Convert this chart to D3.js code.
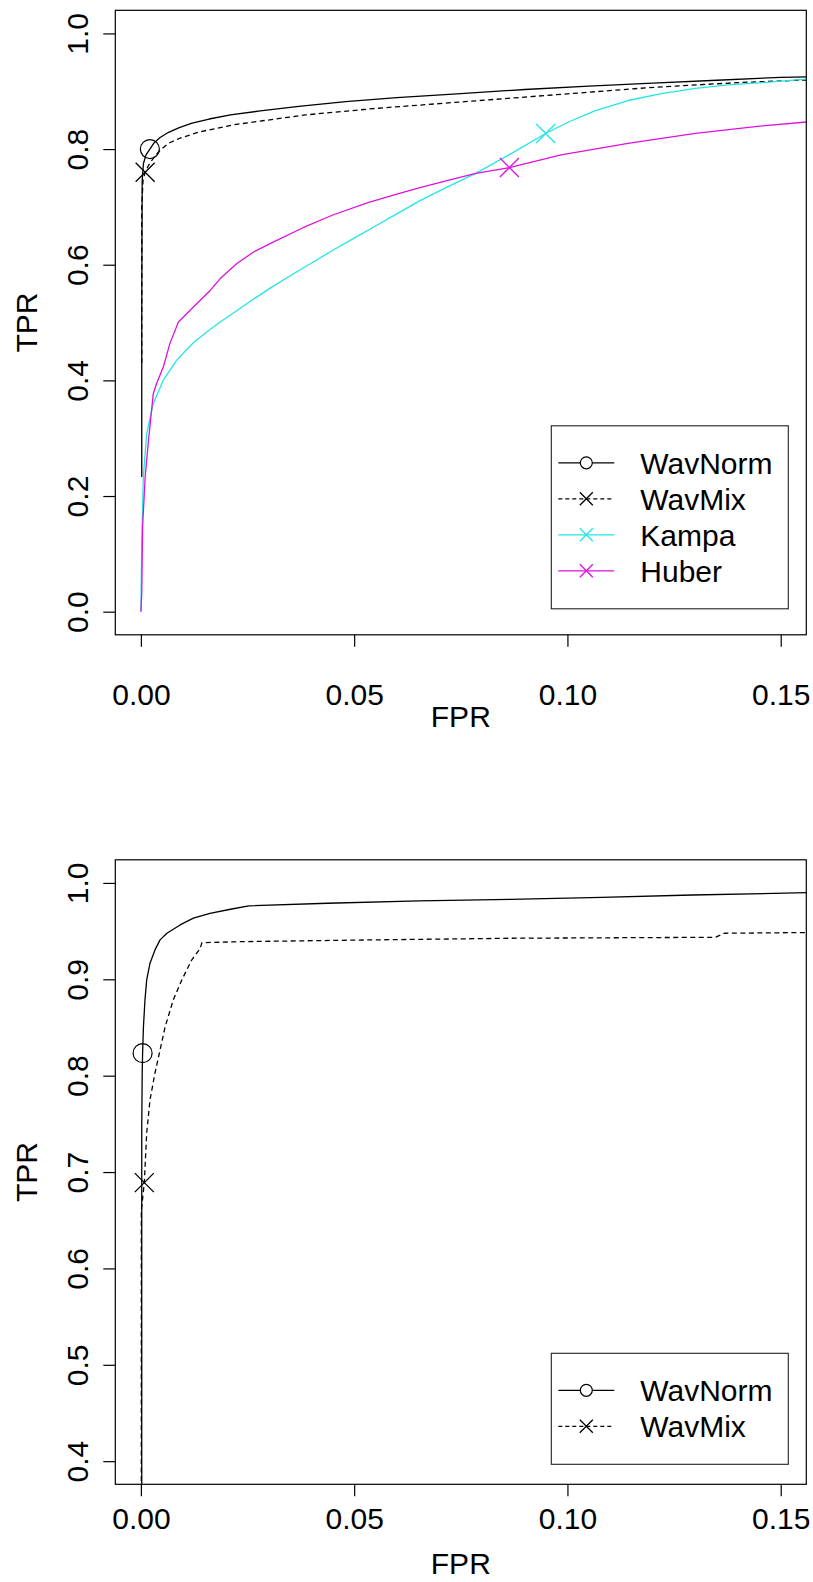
<!DOCTYPE html>
<html>
<head>
<meta charset="utf-8">
<script src="https://cdn.jsdelivr.net/npm/d3@7"></script>
<style>
  body { margin: 0; background: #fff; }
  svg { display: block; }
  text { font-family: "Liberation Sans", Arial, Helvetica, sans-serif; }
</style>
</head>
<body>
<svg id="chart" width="813" height="1582"></svg>
<script>
// ---------- shared axis ticks ----------
const xTicks = [0, 0.05, 0.10, 0.15];
const xTickLabels = ["0.00", "0.05", "0.10", "0.15"];
const yTicksA = [0, 0.2, 0.4, 0.6, 0.8, 1.0];
const yTickLabelsA = ["0.0", "0.2", "0.4", "0.6", "0.8", "1.0"];
const yTicksB = [0.4, 0.5, 0.6, 0.7, 0.8, 0.9, 1.0];
const yTickLabelsB = ["0.4", "0.5", "0.6", "0.7", "0.8", "0.9", "1.0"];

// ---------- panel A: ROC curves of four detectors ----------
const wavNormA_fpr = [0.0002, 0.0002, 0.0003, 0.0006, 0.0012, 0.0021, 0.003, 0.0045, 0.0065, 0.009, 0.012, 0.016, 0.021, 0.028, 0.037, 0.048, 0.06, 0.075, 0.09, 0.105, 0.12, 0.135, 0.15, 0.156];
const wavNormA_tpr = [0.233, 0.50, 0.745, 0.775, 0.79, 0.80, 0.81, 0.82, 0.829, 0.837, 0.845, 0.852, 0.859, 0.866, 0.874, 0.882, 0.889, 0.896, 0.903, 0.909, 0.914, 0.919, 0.924, 0.925];

const wavMixA_fpr = [0.0002, 0.0002, 0.0005, 0.001, 0.0018, 0.0029, 0.0045, 0.0065, 0.0092, 0.0139, 0.0217, 0.0296, 0.0385, 0.0545, 0.0759, 0.0973, 0.1186, 0.14, 0.156];
const wavMixA_tpr = [0.43, 0.70, 0.745, 0.76, 0.772, 0.784, 0.798, 0.810, 0.819, 0.830, 0.842, 0.850, 0.859, 0.870, 0.882, 0.894, 0.906, 0.915, 0.9195];

const kampaA_fpr = [0, 0.0001, 0.0002, 0.00057, 0.00136, 0.0029, 0.0053, 0.0084, 0.0123, 0.0155, 0.0186, 0.0249, 0.0304, 0.035, 0.04, 0.045, 0.05, 0.055, 0.06, 0.0652, 0.072, 0.0785, 0.087, 0.0949, 0.1, 0.1064, 0.1142, 0.122, 0.130, 0.1377, 0.1456, 0.1564];
const kampaA_tpr = [0, 0.06, 0.12, 0.233, 0.308, 0.360, 0.401, 0.435, 0.465, 0.484, 0.501, 0.533, 0.560, 0.581, 0.603, 0.625, 0.646, 0.667, 0.688, 0.710, 0.735, 0.758, 0.793, 0.827, 0.846, 0.866, 0.884, 0.896, 0.905, 0.911, 0.915, 0.921];

const huberA_fpr = [0, 0.0002, 0.0004, 0.001, 0.0017, 0.0029, 0.0037, 0.0053, 0.0068, 0.0088, 0.0123, 0.0163, 0.0186, 0.0225, 0.0264, 0.0304, 0.038, 0.045, 0.0534, 0.06, 0.0652, 0.072, 0.0785, 0.0864, 0.0985, 0.1142, 0.130, 0.1456, 0.1564];
const huberA_tpr = [0, 0.032, 0.147, 0.233, 0.290, 0.377, 0.395, 0.424, 0.464, 0.501, 0.527, 0.556, 0.576, 0.602, 0.622, 0.637, 0.664, 0.686, 0.708, 0.722, 0.733, 0.746, 0.758, 0.768, 0.79, 0.81, 0.827, 0.84, 0.847];

// operating points (threshold) on each curve: [fpr, tpr]
const wavNormA_point = [0.0021, 0.80];
const wavMixA_point = [0.001, 0.76];
const kampaA_point = [0.0949, 0.827];
const huberA_point = [0.0864, 0.768];

// ---------- panel B: ROC curves of the two wavelet detectors ----------
const wavNormB_fpr = [0.0002, 0.0002, 0.0003, 0.0004, 0.0006, 0.00096, 0.00136, 0.00214, 0.0033, 0.0045, 0.0061, 0.0092, 0.0123, 0.0162, 0.021, 0.0253, 0.0438, 0.0652, 0.0866, 0.108, 0.1293, 0.1564];
const wavNormB_tpr = [0.30, 0.745, 0.80, 0.8234, 0.851, 0.8787, 0.8994, 0.9167, 0.9305, 0.9409, 0.9478, 0.9564, 0.9634, 0.9685, 0.9727, 0.9762, 0.9789, 0.9813, 0.983, 0.9851, 0.9875, 0.9899];

const wavMixB_fpr = [0.0001, 0.0001, 0.0008, 0.00136, 0.00214, 0.0033, 0.0045, 0.0057, 0.0076, 0.0096, 0.0119, 0.0139, 0.0143, 0.0241, 0.0545, 0.0866, 0.1347, 0.1368, 0.1564];
const wavMixB_tpr = [0.30, 0.66, 0.689, 0.7405, 0.775, 0.8027, 0.8269, 0.851, 0.8787, 0.8994, 0.92, 0.932, 0.938, 0.9391, 0.9409, 0.9426, 0.9436, 0.9478, 0.9485];

const wavNormB_point = [0.0004, 0.8234];
const wavMixB_point = [0.0008, 0.689];

// ---------- styling ----------
const FONT = 30;
const COL_CYAN = "#22e6e6";
const COL_MAGENTA = "#dd11dd";

const series = {
  WavNorm: { color: "#000", dash: null, marker: "circle" },
  WavMix:  { color: "#000", dash: "5,3.5", marker: "cross" },
  Kampa:   { color: COL_CYAN, dash: null, marker: "cross" },
  Huber:   { color: COL_MAGENTA, dash: null, marker: "cross" }
};

const svg = d3.select("#chart");
const plotLeft = 115.3, plotRight = 806.3;
const x = d3.scaleLinear().domain([-0.006, 0.156]).range([plotLeft, plotRight]);

function drawMarker(g, type, cx, cy, r, color) {
  if (type === "circle") {
    g.append("circle").attr("cx", cx).attr("cy", cy).attr("r", r)
      .attr("fill", "none").attr("stroke", color).attr("stroke-width", 1.2);
  } else {
    g.append("path")
      .attr("d", `M${cx - r},${cy - r}L${cx + r},${cy + r}M${cx - r},${cy + r}L${cx + r},${cy - r}`)
      .attr("fill", "none").attr("stroke", color).attr("stroke-width", 1.3);
  }
}

function drawPanel(p) {
  const y = d3.scaleLinear().domain(p.yDomain).range([p.bottom, p.top]);
  const g = svg.append("g");
  const clipId = "clip-" + p.id;
  svg.append("clipPath").attr("id", clipId).append("rect")
    .attr("x", plotLeft).attr("y", p.top)
    .attr("width", plotRight - plotLeft).attr("height", p.bottom - p.top);

  const line = d3.line().x(d => x(d[0])).y(d => y(d[1]));
  const curves = g.append("g").attr("clip-path", `url(#${clipId})`);
  p.curves.forEach(c => {
    const st = series[c.name];
    curves.append("path")
      .datum(d3.zip(c.fpr, c.tpr))
      .attr("d", line)
      .attr("fill", "none")
      .attr("stroke", st.color)
      .attr("stroke-width", 1.3)
      .attr("stroke-linejoin", "round")
      .attr("stroke-dasharray", st.dash);
  });
  p.curves.forEach(c => {
    const st = series[c.name];
    drawMarker(g, st.marker, x(c.point[0]), y(c.point[1]), 9.5, st.color);
  });

  // plot frame
  g.append("rect").attr("x", plotLeft).attr("y", p.top)
    .attr("width", plotRight - plotLeft).attr("height", p.bottom - p.top)
    .attr("fill", "none").attr("stroke", "#000").attr("stroke-width", 1.2);

  // x axis
  const gx = g.append("g").attr("transform", `translate(0,${p.bottom})`)
    .call(d3.axisBottom(x).tickValues(xTicks).tickFormat((d, i) => xTickLabels[i]).tickSize(12));
  gx.select(".domain").remove();
  gx.selectAll("line").attr("stroke", "#000").attr("stroke-width", 1.2);
  gx.selectAll("text").attr("y", p.xLabelOffset).attr("dy", null)
    .attr("font-size", FONT).attr("fill", "#000");
  gx.attr("font-family", null).attr("font-size", null);

  // y axis, labels parallel to the axis
  const gy = g.append("g").attr("transform", `translate(${plotLeft},0)`)
    .call(d3.axisLeft(y).tickValues(p.yTicks).tickFormat((d, i) => p.yTickLabels[i]).tickSize(12));
  gy.select(".domain").remove();
  gy.selectAll("line").attr("stroke", "#000").attr("stroke-width", 1.2);
  gy.selectAll("text").attr("x", null).attr("dy", null)
    .attr("text-anchor", "middle")
    .attr("transform", "translate(-27.3,0) rotate(-90)")
    .attr("font-size", FONT).attr("fill", "#000");
  gy.attr("font-family", null).attr("font-size", null);

  // axis titles
  g.append("text").attr("x", (plotLeft + plotRight) / 2).attr("y", p.bottom + p.titleOffset)
    .attr("text-anchor", "middle").attr("font-size", FONT).text("FPR");
  g.append("text")
    .attr("transform", `translate(37,${(p.top + p.bottom) / 2}) rotate(-90)`)
    .attr("text-anchor", "middle").attr("font-size", FONT).text("TPR");

  // legend (bottom right)
  const rowH = 36;
  const n = p.curves.length;
  const lgRight = plotRight - 18, lgLeft = lgRight - 237;
  const lgBottom = p.bottom - p.legendGap;
  const lgTop = lgBottom - (37 + (n - 1) * rowH + 38);
  g.append("rect").attr("x", lgLeft).attr("y", lgTop)
    .attr("width", lgRight - lgLeft).attr("height", lgBottom - lgTop)
    .attr("fill", "#fff").attr("stroke", "#222").attr("stroke-width", 1.1);
  p.curves.forEach((c, i) => {
    const st = series[c.name];
    const ry = lgTop + 37 + i * rowH;
    g.append("line").attr("x1", lgLeft + 7).attr("x2", lgLeft + 63)
      .attr("y1", ry).attr("y2", ry)
      .attr("stroke", st.color).attr("stroke-width", 1.2)
      .attr("stroke-dasharray", st.dash ? "4,3" : null);
    if (st.marker === "circle") {
      g.append("circle").attr("cx", lgLeft + 35).attr("cy", ry).attr("r", 6)
        .attr("fill", "#fff").attr("stroke", st.color).attr("stroke-width", 1.2);
    } else {
      drawMarker(g, "cross", lgLeft + 35, ry, 6.5, st.color);
    }
    g.append("text").attr("x", lgLeft + 89).attr("y", ry + 11)
      .attr("font-size", FONT).attr("fill", "#000").text(c.name);
  });
}

drawPanel({
  id: "a", top: 10.3, bottom: 634.8, yDomain: [-0.04, 1.04],
  yTicks: yTicksA, yTickLabels: yTickLabelsA, legendGap: 26,
  xLabelOffset: 70, titleOffset: 92,
  curves: [
    { name: "WavNorm", fpr: wavNormA_fpr, tpr: wavNormA_tpr, point: wavNormA_point },
    { name: "WavMix", fpr: wavMixA_fpr, tpr: wavMixA_tpr, point: wavMixA_point },
    { name: "Kampa", fpr: kampaA_fpr, tpr: kampaA_tpr, point: kampaA_point },
    { name: "Huber", fpr: huberA_fpr, tpr: huberA_tpr, point: huberA_point }
  ]
});

drawPanel({
  id: "b", top: 859.8, bottom: 1484.3, yDomain: [0.376, 1.024],
  yTicks: yTicksB, yTickLabels: yTickLabelsB, legendGap: 20,
  xLabelOffset: 45, titleOffset: 90,
  curves: [
    { name: "WavNorm", fpr: wavNormB_fpr, tpr: wavNormB_tpr, point: wavNormB_point },
    { name: "WavMix", fpr: wavMixB_fpr, tpr: wavMixB_tpr, point: wavMixB_point }
  ]
});
</script>
</body>
</html>
